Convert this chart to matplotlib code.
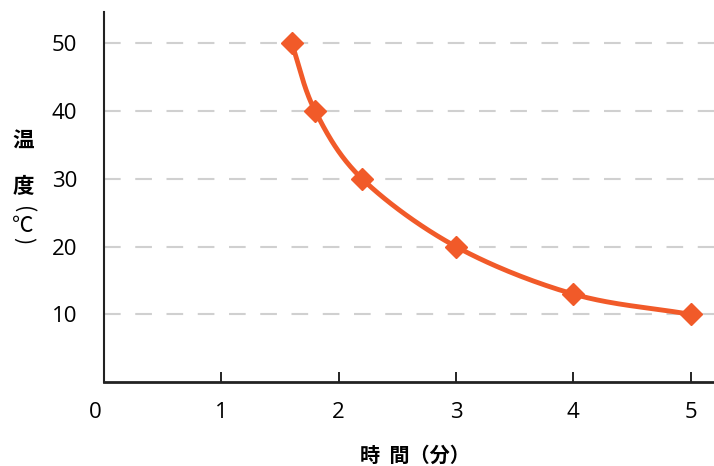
import matplotlib
matplotlib.use("Agg")
import matplotlib.pyplot as plt
import matplotlib.transforms as mtransforms
import numpy as np

plt.rcParams['font.family'] = ['Open Sans', 'Noto Sans CJK JP', 'DejaVu Sans']

# data
time_min = [1.6, 1.8, 2.2, 3, 4, 5]
temp_c = [50, 40, 30, 20, 13, 10]
x_ticks = [0, 1, 2, 3, 4, 5]
y_ticks = [10, 20, 30, 40, 50]

LINE_COLOR = '#F15A29'
CJK = ['Noto Sans CJK JP', 'DejaVu Sans']


def smooth_curve(xs, ys, steps=40):
    # Catmull-Rom style smoothing between the data points (like Excel's smoothed line)
    px = np.array(xs, dtype=float)
    py = np.array(ys, dtype=float)
    px = np.concatenate([[2 * px[0] - px[1]], px, [2 * px[-1] - px[-2]]])
    py = np.concatenate([[2 * py[0] - py[1]], py, [2 * py[-1] - py[-2]]])
    out_x, out_y = [], []
    t = np.linspace(0, 1, steps)
    for i in range(1, len(px) - 2):
        p0, p1, p2, p3 = [np.array([px[j], py[j]]) for j in range(i - 1, i + 3)]
        c1 = p1 + (p2 - p0) / 6
        c2 = p2 - (p3 - p1) / 6
        seg = ((1 - t) ** 3)[:, None] * p1 + (3 * (1 - t) ** 2 * t)[:, None] * c1 \
            + (3 * (1 - t) * t ** 2)[:, None] * c2 + (t ** 3)[:, None] * p2
        out_x.extend(seg[:, 0])
        out_y.extend(seg[:, 1])
    return out_x, out_y


fig = plt.figure(figsize=(7.14, 4.66), dpi=100)
ax = fig.add_axes([0.1457, 0.180, 0.8543, 0.794])

for y in y_ticks:
    ax.axhline(y, color='#d0d0d0', lw=1.5, dashes=(8, 7), zorder=1)

sx, sy = smooth_curve(time_min, temp_c)
ax.plot(sx, sy, color=LINE_COLOR, lw=3.5, zorder=3, solid_capstyle='round')
ax.plot(time_min, temp_c, 'D', color=LINE_COLOR, markersize=11, zorder=4)

ax.set_xlim(0, 5.2)
ax.set_ylim(0, 54.6)
ax.set_xticks(x_ticks)
ax.set_xticklabels([str(v) for v in x_ticks])
ax.set_yticks(y_ticks)
ax.set_yticklabels([str(v) for v in y_ticks])

for side in ['top', 'right']:
    ax.spines[side].set_visible(False)
ax.spines['left'].set_color('#222222')
ax.spines['bottom'].set_color('#222222')
ax.spines['left'].set_linewidth(1.5)
ax.spines['bottom'].set_linewidth(2)

ax.tick_params(axis='x', direction='in', length=7, width=1.2, pad=14, labelsize=16)
ax.tick_params(axis='y', length=0, pad=19.5, labelsize=16)
first = ax.xaxis.get_major_ticks()[0]
first.tick1line.set_visible(False)
first.label1.set_transform(first.label1.get_transform() +
                           mtransforms.ScaledTranslation(-9 / 100, 0, fig.dpi_scale_trans))

fig.text(415 / 714, 1 - 455 / 466, '時  間（分）', ha='center', va='center', fontsize=14.5,
         fontweight='bold', family=CJK)

# stacked vertical y label, parentheses turned to their vertical form
for ch, ypx, rot, wt in [('温', 141, 0, 'bold'), ('度', 187, 0, 'bold'),
                         ('(', 210, -90, 'normal'), ('℃', 226, 0, 'normal'),
                         (')', 241, -90, 'normal')]:
    fig.text(23 / 714, 1 - ypx / 466, ch, ha='center', va='center', fontsize=15.5,
             rotation=rot, fontweight=wt, family=CJK)

fig.savefig('out.png', dpi=100)
